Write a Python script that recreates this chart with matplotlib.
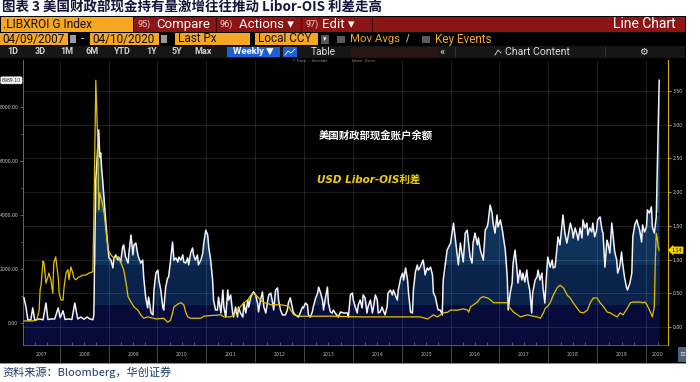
import matplotlib
matplotlib.use('Agg')
import matplotlib.pyplot as plt
from matplotlib.patches import Rectangle
from matplotlib.lines import Line2D
from matplotlib.transforms import blended_transform_factory
import numpy as np

# US Treasury cash balance (white line, left axis), weekly readings
tga_t = [
    2007.27, 2007.31, 2007.35, 2007.41, 2007.45, 2007.49, 2007.58, 2007.66, 2007.72, 2007.76,
    2007.84, 2007.90, 2007.97, 2008.01, 2008.07, 2008.11, 2008.19, 2008.25, 2008.31, 2008.37,
    2008.43, 2008.50, 2008.56, 2008.62, 2008.68, 2008.70, 2008.74, 2008.76, 2008.80, 2008.82,
    2008.84, 2008.86, 2008.88, 2008.93, 2008.97, 2009.01, 2009.05, 2009.09, 2009.11, 2009.15,
    2009.19, 2009.21, 2009.25, 2009.29, 2009.31, 2009.35, 2009.40, 2009.42, 2009.46, 2009.50,
    2009.52, 2009.56, 2009.60, 2009.62, 2009.66, 2009.70, 2009.72, 2009.76, 2009.80, 2009.82,
    2009.87, 2009.91, 2009.93, 2009.97, 2010.01, 2010.03, 2010.07, 2010.11, 2010.13, 2010.17,
    2010.21, 2010.23, 2010.27, 2010.31, 2010.34, 2010.38, 2010.42, 2010.44, 2010.48, 2010.52,
    2010.54, 2010.58, 2010.62, 2010.64, 2010.68, 2010.72, 2010.74, 2010.78, 2010.82, 2010.84,
    2010.89, 2010.93, 2010.95, 2010.99, 2011.03, 2011.05, 2011.09, 2011.13, 2011.15, 2011.19,
    2011.23, 2011.25, 2011.30, 2011.34, 2011.36, 2011.40, 2011.44, 2011.46, 2011.50, 2011.54,
    2011.56, 2011.60, 2011.64, 2011.66, 2011.70, 2011.75, 2011.77, 2011.81, 2011.85, 2011.87,
    2011.91, 2011.95, 2011.97, 2012.01, 2012.05, 2012.07, 2012.11, 2012.15, 2012.18, 2012.22,
    2012.26, 2012.28, 2012.32, 2012.36, 2012.38, 2012.42, 2012.46, 2012.48, 2012.52, 2012.56,
    2012.62, 2012.66, 2012.68, 2012.72, 2012.76, 2012.78, 2012.82, 2012.89, 2012.97, 2012.99,
    2013.03, 2013.07, 2013.09, 2013.13, 2013.17, 2013.19, 2013.24, 2013.28, 2013.30, 2013.34,
    2013.38, 2013.40, 2013.44, 2013.48, 2013.50, 2013.54, 2013.58, 2013.60, 2013.64, 2013.70,
    2013.75, 2013.81, 2013.89, 2013.91, 2013.95, 2013.99, 2014.01, 2014.05, 2014.09, 2014.11,
    2014.15, 2014.19, 2014.21, 2014.25, 2014.29, 2014.31, 2014.36, 2014.40, 2014.42, 2014.46,
    2014.50, 2014.52, 2014.56, 2014.60, 2014.62, 2014.66, 2014.70, 2014.72, 2014.77, 2014.81,
    2014.83, 2014.87, 2014.91, 2014.93, 2014.98, 2015.02, 2015.04, 2015.08, 2015.12, 2015.14,
    2015.18, 2015.22, 2015.24, 2015.28, 2015.32, 2015.34, 2015.38, 2015.42, 2015.44, 2015.48,
    2015.52, 2015.55, 2015.59, 2015.63, 2015.65, 2015.69, 2015.73, 2015.75, 2015.79, 2015.83,
    2015.85, 2015.93, 2016.00, 2016.06, 2016.14, 2016.16, 2016.20, 2016.26, 2016.30, 2016.34,
    2016.40, 2016.44, 2016.46, 2016.50, 2016.55, 2016.57, 2016.61, 2016.67, 2016.71, 2016.75,
    2016.77, 2016.81, 2016.85, 2016.87, 2016.91, 2016.95, 2016.97, 2017.02, 2017.06, 2017.08,
    2017.12, 2017.16, 2017.18, 2017.22, 2017.26, 2017.28, 2017.32, 2017.36, 2017.38, 2017.42,
    2017.46, 2017.48, 2017.52, 2017.56, 2017.58, 2017.62, 2017.66, 2017.68, 2017.73, 2017.77,
    2017.79, 2017.83, 2017.87, 2017.89, 2017.93, 2017.97, 2017.99, 2018.04, 2018.08, 2018.10,
    2018.14, 2018.18, 2018.20, 2018.24, 2018.28, 2018.30, 2018.34, 2018.38, 2018.40, 2018.45,
    2018.49, 2018.51, 2018.55, 2018.59, 2018.61, 2018.65, 2018.69, 2018.71, 2018.75, 2018.79,
    2018.81, 2018.85, 2018.89, 2018.91, 2018.95, 2018.99, 2019.01, 2019.06, 2019.10, 2019.12,
    2019.16, 2019.20, 2019.22, 2019.26, 2019.30, 2019.32, 2019.36, 2019.40, 2019.42, 2019.46,
    2019.50, 2019.52, 2019.56, 2019.60, 2019.62, 2019.67, 2019.71, 2019.73, 2019.77, 2019.81,
    2019.83, 2019.87, 2019.91, 2019.93, 2019.97, 2020.01, 2020.03, 2020.07, 2020.11, 2020.13,
    2020.17, 2020.21, 2020.27,
]
tga_v = [
    930, 600, 110, 120, 560, 110, 150, 120, 740, 130,
    150, 150, 560, 200, 450, 130, 150, 130, 740, 150,
    220, 140, 220, 150, 120, 300, 5300, 5900, 7150, 6150,
    6300, 5700, 5300, 4070, 3190, 2410, 2330, 2040, 2410, 2520,
    2330, 2440, 2260, 2820, 2890, 2440, 2220, 2630, 3260, 2520,
    2890, 2960, 2520, 2410, 2220, 2330, 1700, 960, 560, 960,
    370, 300, 1220, 1850, 1960, 1590, 1220, 590, 480, 1330,
    1670, 1700, 2330, 3000, 2330, 2410, 2260, 2440, 2330, 2520,
    2260, 2220, 2410, 2150, 2590, 2780, 2520, 2330, 2520, 2150,
    2330, 2590, 2960, 3440, 3260, 2820, 2330, 1590, 850, 480,
    480, 960, 370, 1220, 590, 220, 1220, 850, 1040, 370,
    220, 590, 220, 590, 370, 220, 740, 370, 850, 590,
    960, 1110, 1150, 1040, 740, 410, 850, 1150, 590, 370,
    850, 1040, 1110, 740, 480, 1220, 1300, 850, 480, 300,
    300, 480, 740, 930, 590, 410, 300, 220, 590, 560,
    740, 670, 300, 220, 410, 590, 930, 1110, 1330, 1110,
    850, 480, 930, 1330, 740, 410, 370, 480, 370, 220,
    410, 370, 370, 220, 1040, 1110, 850, 590, 370, 670,
    850, 560, 1040, 930, 370, 590, 850, 370, 560, 1040,
    850, 370, 410, 590, 480, 300, 590, 1110, 1220, 1040,
    1220, 1040, 850, 1220, 1670, 1850, 1590, 2040, 1590, 1110,
    410, 370, 1220, 1890, 2150, 1960, 2070, 2260, 2330, 1780,
    2040, 1960, 2070, 1780, 1110, 960, 590, 480, 480, 300,
    1590, 2700, 2960, 3700, 2440, 2150, 2960, 2260, 3330, 3440,
    2440, 2220, 2960, 3330, 2890, 3150, 2700, 2330, 3440, 3560,
    3740, 4370, 4070, 3700, 3330, 4000, 3560, 3820, 3440, 3190,
    2700, 1700, 480, 1110, 1480, 2220, 2700, 1960, 1480, 1960,
    1590, 1850, 1520, 1960, 1590, 1220, 370, 1110, 1590, 1700,
    1960, 1590, 1850, 1330, 740, 1960, 2440, 2070, 2330, 2040,
    2070, 2810, 3190, 2890, 3630, 4000, 3330, 2960, 3150, 3700,
    3440, 3150, 3520, 3260, 3070, 3520, 3150, 3820, 3520, 3700,
    3260, 3520, 3370, 3700, 3190, 3440, 3820, 3930, 3440, 3330,
    2070, 3070, 2960, 2590, 3700, 3330, 2630, 2330, 1850, 2070,
    2630, 2220, 1700, 1330, 1220, 1480, 1850, 3190, 3630, 3820,
    3700, 3440, 3000, 3630, 3370, 3560, 4190, 4070, 4300, 3560,
    3330, 3930, 8989.10,
]

# USD Libor-OIS spread (yellow line, right axis)
ois_t = [
    2007.27, 2007.45, 2007.53, 2007.58, 2007.60, 2007.62, 2007.66, 2007.68, 2007.72, 2007.76,
    2007.78, 2007.82, 2007.86, 2007.88, 2007.92, 2007.97, 2007.99, 2008.03, 2008.07, 2008.09,
    2008.13, 2008.17, 2008.19, 2008.23, 2008.27, 2008.29, 2008.33, 2008.39, 2008.48, 2008.54,
    2008.60, 2008.68, 2008.70, 2008.74, 2008.78, 2008.80, 2008.82, 2008.86, 2008.91, 2008.99,
    2009.05, 2009.11, 2009.19, 2009.25, 2009.31, 2009.36, 2009.40, 2009.46, 2009.52, 2009.60,
    2009.66, 2009.72, 2009.80, 2009.97, 2010.13, 2010.21, 2010.27, 2010.31, 2010.34, 2010.42,
    2010.48, 2010.54, 2010.58, 2010.62, 2010.68, 2010.89, 2010.95, 2011.09, 2011.30, 2011.36,
    2011.50, 2011.56, 2011.64, 2011.70, 2011.77, 2011.85, 2011.91, 2011.97, 2012.05, 2012.11,
    2012.18, 2012.26, 2012.32, 2012.52, 2012.69, 2012.73, 2012.79, 2012.93, 2013.55, 2014.16,
    2014.77, 2015.38, 2015.53, 2015.59, 2015.65, 2015.73, 2015.79, 2015.86, 2015.94, 2016.00,
    2016.14, 2016.27, 2016.35, 2016.37, 2016.41, 2016.47, 2016.55, 2016.61, 2016.67, 2016.76,
    2016.82, 2016.88, 2016.96, 2017.08, 2017.16, 2017.18, 2017.22, 2017.29, 2017.37, 2017.43,
    2017.57, 2017.69, 2017.77, 2017.84, 2017.90, 2017.94, 2017.98, 2018.04, 2018.10, 2018.18,
    2018.24, 2018.31, 2018.39, 2018.45, 2018.51, 2018.59, 2018.65, 2018.72, 2018.80, 2018.86,
    2018.92, 2019.00, 2019.06, 2019.13, 2019.21, 2019.27, 2019.33, 2019.41, 2019.47, 2019.53,
    2019.62, 2019.68, 2019.74, 2019.82, 2019.88, 2019.94, 2019.98, 2020.02, 2020.09, 2020.13,
    2020.17, 2020.19, 2020.21, 2020.23, 2020.25, 2020.27,
]
ois_v = [
    0.09, 0.09, 0.10, 0.25, 0.55, 0.62, 0.98, 0.95, 0.65, 0.74,
    0.80, 0.70, 0.50, 0.95, 1.04, 0.74, 0.50, 0.40, 0.40, 0.59,
    0.80, 0.85, 0.70, 0.89, 0.80, 0.73, 0.70, 0.74, 0.77, 0.77,
    0.80, 0.82, 1.63, 3.66, 2.73, 1.74, 1.99, 1.88, 1.69, 1.14,
    1.07, 1.02, 1.04, 0.96, 0.85, 0.65, 0.45, 0.37, 0.30, 0.25,
    0.18, 0.13, 0.15, 0.12, 0.13, 0.07, 0.10, 0.21, 0.30, 0.34,
    0.36, 0.33, 0.22, 0.15, 0.13, 0.13, 0.16, 0.17, 0.18, 0.15,
    0.15, 0.18, 0.25, 0.30, 0.36, 0.40, 0.47, 0.50, 0.45, 0.40,
    0.36, 0.35, 0.33, 0.33, 0.31, 0.25, 0.18, 0.16, 0.16, 0.15,
    0.15, 0.15, 0.12, 0.15, 0.18, 0.15, 0.18, 0.21, 0.22, 0.25,
    0.25, 0.27, 0.25, 0.22, 0.30, 0.33, 0.37, 0.43, 0.45, 0.43,
    0.40, 0.36, 0.36, 0.36, 0.36, 0.30, 0.28, 0.22, 0.18, 0.15,
    0.18, 0.16, 0.15, 0.13, 0.21, 0.28, 0.30, 0.36, 0.47, 0.58,
    0.62, 0.58, 0.47, 0.43, 0.36, 0.28, 0.22, 0.21, 0.25, 0.36,
    0.43, 0.43, 0.36, 0.30, 0.22, 0.21, 0.18, 0.15, 0.21, 0.18,
    0.28, 0.36, 0.37, 0.37, 0.37, 0.36, 0.37, 0.33, 0.22, 0.15,
    0.30, 0.99, 1.39, 1.32, 1.19, 1.14,
]

left_ticks = [0, 2000, 4000, 6000, 8000]
right_ticks = [0, 0.5, 1.0, 1.5, 2.0, 2.5, 3.0, 3.5]
year_starts = list(range(2008, 2021))
year_labels = [str(y) for y in range(2007, 2021)]

title = '图表 3 美国财政部现金持有量激增往往推动 Libor-OIS 利差走高'
source = '资料来源：Bloomberg，华创证券'
label_tga = '美国财政部现金账户余额'
label_ois = 'USD Libor-OIS利差'

CJK = ['Noto Sans CJK SC', 'DejaVu Sans']
UI = ['Roboto', 'DejaVu Sans']
ORANGE = '#f5a623'
RED = '#8c1414'
BLUE = '#1f5fd6'

W, H = 700, 382
fig = plt.figure(figsize=(W / 100, H / 100), dpi=100)
fig.patch.set_facecolor('white')


def fx(x):
    return x / W


def fy(y):
    return 1 - y / H


def rect(x0, y0, x1, y1, color, z=1):
    fig.patches.append(Rectangle((fx(x0), fy(y1)), (x1 - x0) / W, (y1 - y0) / H,
                                 transform=fig.transFigure, facecolor=color,
                                 edgecolor='none', zorder=z))


def label(x, y, s, **kw):
    kw.setdefault('va', 'center')
    kw.setdefault('family', UI)
    fig.text(fx(x), fy(y), s, **kw)


# title and source line
label(2, 8, title, fontsize=9.7, fontweight='bold', color='#14143a', family=CJK)
label(2, 372, source, fontsize=8, color='#1f3864', style='italic', family=CJK)

# black terminal panel
rect(0, 16, 686, 363, 'black', z=-5)
rect(0, 362.5, 686, 364, '#8096b8', z=-4)

# row 1: ticker + red menu bar
rect(1, 17, 133, 32, ORANGE)
label(3, 24.5, '.LIBXROI G Index', fontsize=8.6, color='#111111')
rect(134, 17, 685, 32, RED)
for xs in (216, 301, 372):
    rect(xs, 17, xs + 1.2, 32, '#2a0505', z=2)
label(137, 24.5, '95)', fontsize=6.5, color='#f0d0d0')
label(156, 24.5, 'Compare', fontsize=9.5, color='white')
label(220, 24.5, '96)', fontsize=6.5, color='#f0d0d0')
label(239, 24.5, 'Actions ▾', fontsize=9.5, color='white')
label(305, 24.5, '97)', fontsize=6.5, color='#f0d0d0')
label(322, 24.5, 'Edit ▾', fontsize=9.5, color='white')
label(676, 24.5, 'Line Chart', fontsize=10, color='white', ha='right')

# row 2: dates and settings
rect(0, 33, 68, 45, ORANGE)
label(2, 39, '04/09/2007', fontsize=8.5, color='#111111')
rect(70, 35, 76, 43, '#9a9a9a')
label(81, 39, '-', fontsize=8, color='white')
rect(90, 33, 159, 45, ORANGE)
label(92, 39, '04/10/2020', fontsize=8.5, color='#111111')
rect(161, 35, 167, 43, '#9a9a9a')
rect(175, 33, 250, 45, ORANGE)
label(178, 39, 'Last Px', fontsize=8.5, color='#111111')
rect(255, 33, 318, 45, ORANGE)
label(258, 39, 'Local CCY', fontsize=8.5, color='#111111')
rect(321, 35, 329, 44, '#555555')
label(325, 39.5, '▾', fontsize=5, color='white', ha='center')
rect(337, 36, 345, 43, '#5a5a5a')
label(350, 39, 'Mov Avgs', fontsize=8.2, color=ORANGE)
label(405, 39, '/', fontsize=7, color='#aaaaaa', fontweight='bold')
rect(422, 36, 430, 43, '#5a5a5a')
label(435, 39, 'Key Events', fontsize=8.5, color=ORANGE)

# row 3: range buttons
rect(0, 46, 685, 58, '#161616')
for xc, s in zip([13, 40, 67, 92, 122, 152, 177, 203],
                 ['1D', '3D', '1M', '6M', 'YTD', '1Y', '5Y', 'Max']):
    label(xc, 52, s, fontsize=6.5, color='#d0d0d0', ha='center', fontweight='bold')
rect(227, 47, 280, 57, BLUE)
label(253, 52, 'Weekly ▼', fontsize=6.8, color='white', ha='center', fontweight='bold')
rect(283, 47, 297, 57, BLUE)
fig.add_artist(Line2D([fx(285), fx(288), fx(291), fx(295)], [fy(55), fy(51), fy(53), fy(49)],
                      color='white', lw=0.6))
label(323, 52, 'Table', fontsize=7.3, color='#dddddd', ha='center')
rect(351, 47, 438, 57, '#2a1515')
label(442, 51.5, '«', fontsize=8, color='#dddddd', ha='center')
rect(455, 47, 456, 57, '#333333', z=2)
rect(605, 47, 606, 57, '#333333', z=2)
fig.add_artist(Line2D([fx(495), fx(498), fx(501)], [fy(55), fy(50), fy(53)], color='#dddddd', lw=0.6))
label(505, 52, 'Chart Content', fontsize=7.6, color='#dddddd')
label(643, 52, '⚙', fontsize=7, color='#dddddd', ha='center', family=['DejaVu Sans'])
label(293, 61, '+ Track   ⁄ Annotate', fontsize=2.8, color='#888888')
label(352, 61, 'News   Zoom', fontsize=2.8, color='#888888')
rect(678, 347, 686, 362, '#50607a')
label(682, 354.5, '≡', fontsize=5, color='#dddddd', ha='center', family=['DejaVu Sans'])

# chart
ax = fig.add_axes([fx(23), fy(345), 645 / W, 285 / H])
ax.set_facecolor('black')
ax.set_xlim(2007.25, 2020.45)
ax.set_ylim(-815, 9741)
ax2 = ax.twinx()
ax2.set_ylim(-0.267, 3.961)

t = np.array(tga_t)
v = np.array(tga_v)

# banded gradient fill under the treasury cash line
lo = ax.get_ylim()[0]
edges = [lo, 670, 2150, 4100, 10000]
cols = ['#060b3a', '#0a234b', '#0f325a', '#184a66']
for a, b, c in zip(edges[:-1], edges[1:], cols):
    ax.fill_between(t, a, np.clip(v, a, b), color=c, lw=0, zorder=1)

# grid lines follow the right axis ticks and the year boundaries
r0, r1 = ax2.get_ylim()
fr = [(r - r0) / (r1 - r0) for r in right_ticks]
ax.hlines(fr, 0, 1, transform=ax.transAxes, colors='white', alpha=0.14, lw=0.6, zorder=1.5)
ax.vlines(year_starts, 0, 1, transform=ax.get_xaxis_transform(), colors='white',
          alpha=0.14, lw=0.6, zorder=1.5)

ax.plot(t, v, color='#f2f2fa', lw=1.1, zorder=3)
ax2.plot(ois_t, ois_v, color='#e6c000', lw=0.9, zorder=3)

# x axis: separators at year starts, labels in the middle of each year
ax.set_xticks(year_starts)
ax.set_xticklabels([])
ax.tick_params(axis='x', which='major', length=12, width=0.6, color='#555555', direction='out')
mids = [(2007.25 + 2008) / 2] + [y + 0.5 for y in range(2008, 2020)] + [(2020 + 2020.45) / 2]
ax.set_xticks(mids, minor=True)
ax.set_xticklabels(year_labels, minor=True)
ax.tick_params(axis='x', which='minor', length=0, pad=5, labelsize=3.3, labelcolor='#bbbbbb')
quarters = [q for q in np.arange(2007.5, 2020.3, 0.25) if q % 1 != 0]
ax.plot(quarters, np.zeros(len(quarters)), ls='none', marker=2, ms=2, mew=0.5,
        color='#777777', transform=ax.get_xaxis_transform(), clip_on=False, zorder=4)

ax.set_yticks(left_ticks)
ax.set_yticklabels(['%.2f' % x for x in left_ticks])
ax.set_yticks([1000, 3000, 5000, 7000, 9000], minor=True)
ax.tick_params(axis='y', which='major', length=2, width=0.5, pad=1.5, labelsize=3.3,
               color='#888888', labelcolor='#cfcfcf')
ax.tick_params(axis='y', which='minor', length=1.2, width=0.5, color='#888888')

ax2.set_yticks(right_ticks)
ax2.set_yticklabels(['%.2f' % x for x in right_ticks])
ax2.tick_params(axis='y', length=2, width=0.6, pad=1.5, labelsize=3.3,
                color='#d4b000', labelcolor='#d8d8d8')

for s in ('top', 'right'):
    ax.spines[s].set_visible(False)
ax.spines['left'].set_color('#777777')
ax.spines['bottom'].set_color('#666666')
ax.spines['left'].set_linewidth(0.6)
ax.spines['bottom'].set_linewidth(0.6)
for s in ('top', 'left', 'bottom'):
    ax2.spines[s].set_visible(False)
ax2.spines['right'].set_color('#d4b000')
ax2.spines['right'].set_linewidth(0.8)

# last value tags
tl = blended_transform_factory(ax.transAxes, ax.transData)
ax.text(-0.018, tga_v[-1], '%.2f' % tga_v[-1], transform=tl, ha='center', va='center',
        fontsize=3.3, color='#111111', clip_on=False,
        bbox=dict(boxstyle='round,pad=0.25', fc='white', ec='#aaaaaa', lw=0.4))
tr = blended_transform_factory(ax2.transAxes, ax2.transData)
ax2.text(1.006, ois_v[-1], '%.2f' % ois_v[-1], transform=tr, ha='left', va='center',
         fontsize=3.3, color='#111111', clip_on=False,
         bbox=dict(boxstyle='larrow,pad=0.25', fc='#f2d000', ec='none'))

# series labels
label(376, 135, label_tga, fontsize=7.5, color='white', ha='center', family=CJK,
      style='italic', fontweight='bold')
label(317, 180, label_ois, fontsize=7.5, color='#f2d000', family=['DejaVu Sans', 'Noto Sans CJK SC'],
      style='italic', fontweight='bold')

fig.savefig('out.png', dpi=100, facecolor=fig.get_facecolor())
